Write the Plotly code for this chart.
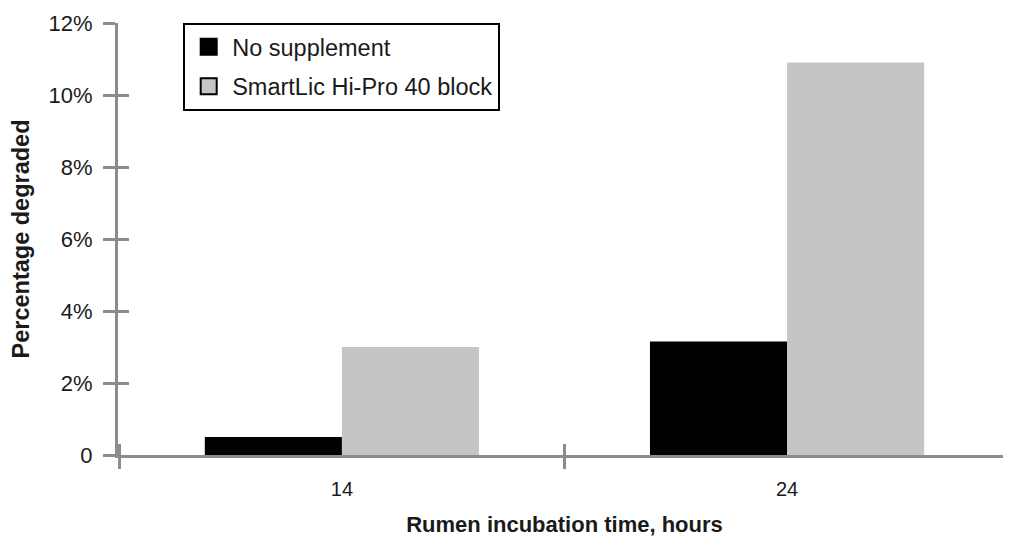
import plotly.graph_objects as go

# incubation times (hours) and percentage degraded per treatment
hours = ["14", "24"]
no_supplement = [0.5, 3.15]
smartlic_block = [3.0, 10.9]

series_names = ["No supplement", "SmartLic Hi-Pro 40 block"]
series_colors = ["#000000", "#c4c5c7"]

y_ticks = [0, 2, 4, 6, 8, 10, 12]
y_tick_labels = ["0", "2%", "4%", "6%", "8%", "10%", "12%"]

AXIS_GRAY = "#8c8c8e"
FONT = "Liberation Sans, Arial, sans-serif"
X_RANGE = [-0.503, 1.503]

fig = go.Figure()

for name, values, color in zip(series_names, [no_supplement, smartlic_block], series_colors):
    fig.add_trace(
        go.Bar(
            x=hours,
            y=values,
            name=name,
            marker=dict(color=color, line=dict(width=0)),
            showlegend=False,
        )
    )

# legend entries with big square swatches
for i, (name, color) in enumerate(zip(series_names, series_colors)):
    fig.add_trace(
        go.Scatter(
            x=[None],
            y=[None],
            mode="markers",
            name=name,
            legendgroup=f"g{i}",
            marker=dict(symbol="square", size=25, color=color, line=dict(color="#000000", width=2)),
        )
    )

# page has an 8px body margin, so the figure is drawn a bit smaller
fig.update_layout(
    width=1003,
    height=539,
    margin=dict(l=110, r=0, t=15, b=92),
    paper_bgcolor="white",
    plot_bgcolor="white",
    font=dict(family=FONT, color="#1a1a1a", size=20),
    barmode="group",
    bargap=0.384,
    bargroupgap=0,
    showlegend=True,
    legend=dict(
        x=0.073,
        y=1.0,
        xanchor="left",
        yanchor="top",
        bordercolor="#000000",
        borderwidth=2,
        bgcolor="white",
        font=dict(size=23.5, family=FONT, color="#1a1a1a"),
        traceorder="grouped",
        tracegroupgap=6,
        itemwidth=37,
    ),
    xaxis=dict(
        type="category",
        categoryarray=hours,
        range=X_RANGE,
        automargin=False,
        showline=True,
        linecolor=AXIS_GRAY,
        linewidth=3,
        ticks="outside",
        tickson="boundaries",
        ticklen=11,
        tickwidth=3,
        tickcolor=AXIS_GRAY,
        showgrid=False,
        zeroline=False,
        tickfont=dict(size=20),
        ticklabelstandoff=14,
        title=dict(
            text="<b>Rumen incubation time, hours</b>",
            font=dict(size=22),
            standoff=18,
        ),
    ),
    xaxis2=dict(
        type="category",
        categoryarray=hours,
        range=X_RANGE,
        overlaying="x",
        anchor="y",
        ticks="inside",
        tickson="boundaries",
        ticklen=11,
        tickwidth=3,
        tickcolor=AXIS_GRAY,
        showticklabels=False,
        showgrid=False,
        zeroline=False,
        showline=False,
    ),
    yaxis=dict(
        range=[0, 12],
        tickvals=y_ticks,
        ticktext=y_tick_labels,
        automargin=False,
        showline=True,
        linecolor=AXIS_GRAY,
        linewidth=3,
        ticks="outside",
        ticklen=12,
        tickwidth=3,
        tickcolor=AXIS_GRAY,
        showgrid=False,
        zeroline=False,
        tickfont=dict(size=22),
        ticklabelstandoff=6,
        title=dict(text="<b>Percentage degraded</b>", font=dict(size=23.5), standoff=15),
    ),
    yaxis2=dict(
        range=[0, 12],
        tickvals=y_ticks,
        overlaying="y",
        anchor="x",
        ticks="inside",
        ticklen=11,
        tickwidth=3,
        tickcolor=AXIS_GRAY,
        showticklabels=False,
        showgrid=False,
        zeroline=False,
        showline=False,
    ),
)

# empty trace so the overlay axes get drawn
fig.add_trace(go.Scatter(x=hours, y=[None, None], xaxis="x2", yaxis="y2", showlegend=False, hoverinfo="skip"))

fig.write_html("out.html")
